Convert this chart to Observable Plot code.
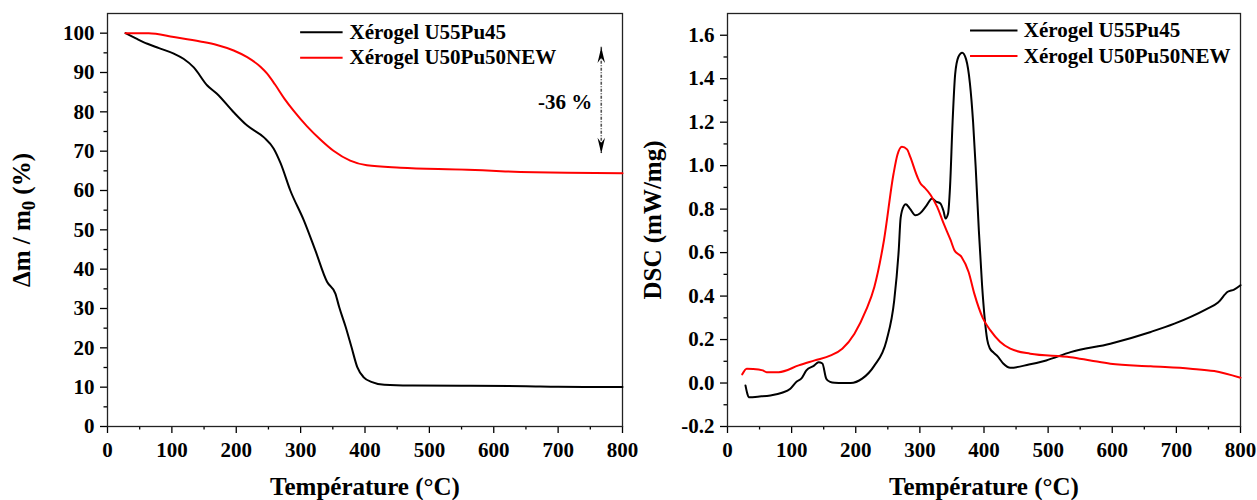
<!DOCTYPE html>
<html><head><meta charset="utf-8">
<script src="https://cdn.jsdelivr.net/npm/d3@7"></script>
<script src="https://cdn.jsdelivr.net/npm/@observablehq/plot@0.6"></script>
<style>
body{margin:0;background:#fff;}
#wrap{display:flex;width:1257px;height:500px;}
#wrap svg{overflow:visible;}
</style></head><body><div id="wrap"></div>
<script>
// ---- data: TGA (left panel) ----
const tgaU55T = [28,45,62,80,103,118,134,155,170,196,217,243,258,269,284,305,323,341,354,360,370,379,388,398,411,430,470,550,650,700,800];
const tgaU55V = [100,98.6,97.3,96.2,94.8,93.5,91.3,86.7,84.6,79.9,76.5,73.5,70.7,66.9,60,52.4,44.7,36.8,33.8,30.3,25.3,20.2,15.1,12.5,11.3,10.6,10.4,10.35,10.25,10.1,10.05];
const tgaU50T = [28,64,103,144,170,196,217,238,248,260,275,289,310,331,351,377,403,455,559,611,714,800];
const tgaU50V = [100,100,99,97.9,97,95.6,93.9,91.4,89.7,87.0,83.3,80.3,76.3,72.9,70.1,67.6,66.4,65.8,65.3,64.9,64.5,64.4];
// ---- data: DSC (right panel) ----
const dscU55T = [28,31,33,50,67,85,98,108,115,123,135,142,148,154,160,167,180,192,210,229,248,260,267,270,275,278,285,293,300,310,319,325,332,337,340,344,347,351,355,360,366,372,378,383,387,392,397,401,405,409,415,422,430,441,470,497,535,597,660,697,747,765,780,790,800];
const dscU55V = [-0.011,-0.05,-0.065,-0.062,-0.057,-0.045,-0.026,0.007,0.02,0.058,0.08,0.096,0.09,0.02,0.005,0.001,0,0,0.02,0.08,0.196,0.38,0.61,0.76,0.815,0.823,0.8,0.772,0.78,0.815,0.849,0.835,0.826,0.79,0.757,0.78,0.9,1.2,1.42,1.5,1.52,1.49,1.38,1.2,0.995,0.7,0.45,0.3,0.2,0.16,0.14,0.12,0.09,0.07,0.085,0.104,0.142,0.181,0.235,0.273,0.34,0.37,0.42,0.43,0.45];
const dscU50T = [23,30,40,55,61,80,111,136,161,179,198,216,229,244,259,265,272,280,285,296,301,306,317,327,337,348,354,365,376,385,398,410,425,441,472,535,566,597,660,722,759,800];
const dscU50V = [0.04,0.066,0.065,0.058,0.05,0.05,0.081,0.104,0.127,0.158,0.227,0.335,0.442,0.657,0.964,1.05,1.087,1.075,1.04,0.949,0.918,0.903,0.864,0.81,0.734,0.657,0.61,0.58,0.511,0.41,0.30,0.242,0.19,0.158,0.135,0.119,0.104,0.089,0.077,0.066,0.055,0.024];
// ---- series / legend ----
const seriesNames = ["Xérogel U55Pu45", "Xérogel U50Pu50NEW"];
const seriesColors = ["#000000", "#ff0000"];
// ---- ticks ----
const xTicks = [0,100,200,300,400,500,600,700,800];
const xMinor = [50,150,250,350,450,550,650,750];
const yTicksL = [0,10,20,30,40,50,60,70,80,90,100];
const yMinorL = [5,15,25,35,45,55,65,75,85,95];
const yTicksR = [-0.2,0,0.2,0.4,0.6,0.8,1.0,1.2,1.4,1.6];
const yMinorR = [-0.1,0.1,0.3,0.5,0.7,0.9,1.1,1.3,1.5];
// ---- titles ----
const xTitle = "Température (°C)";
const yTitleL = "Δm / m0 (%)";
const yTitleR = "DSC (mW/mg)";
// ---- annotation / legend positions (data units) ----
const legL = {x1: 300, x2: 366, xt: 376, y: [100.25, 93.75]};
const legR = {x1: 379, x2: 453, xt: 462, y: [1.622, 1.505]};
const lossArrow = {x: 767, top: 96.4, bottom: 69.4, labelX: 753, labelY: 82.4, label: "-36 %"};

const font = "'Liberation Serif','Times New Roman',serif";
const zip = (T, V) => T.map((t, i) => ({T: t, v: V[i]}));

const arrowHead = {draw(ctx, size) {
  const r = Math.sqrt(size / Math.PI);
  ctx.moveTo(0, 0); ctx.lineTo(r * 0.5, r * 2.1); ctx.lineTo(0, r * 1.4); ctx.lineTo(-r * 0.5, r * 2.1); ctx.closePath();
}};

function legendMarks(leg) {
  const rows = seriesNames.map((n, i) => ({name: n, color: seriesColors[i], y: leg.y[i]}));
  return [
    Plot.ruleY(rows, {y: "y", x1: leg.x1, x2: leg.x2, stroke: "color", strokeWidth: 2}),
    Plot.text(rows, {y: "y", x: leg.xt, text: "name", textAnchor: "start", fontSize: 21, fontWeight: "bold", fill: "black"})
  ];
}

function axisMarks(yTicks, yMinor, yFmt, ylabel, yLabelOffset) {
  return [
    Plot.axisX(xMinor, {tickSize: 3.5, tickFormat: () => "", label: null, strokeWidth: 1.3}),
    Plot.axisX(xTicks, {tickSize: 7, tickPadding: 9, fontSize: 21, fontWeight: "bold", strokeWidth: 1.3,
      label: xTitle, labelAnchor: "center", labelOffset: 68, labelArrow: "none"}),
    Plot.axisY(yMinor, {tickSize: 3.5, tickFormat: () => "", label: null, strokeWidth: 1.3}),
    Plot.axisY(yTicks, {tickSize: 7, tickPadding: 6, fontSize: 21, fontWeight: "bold", strokeWidth: 1.3, tickFormat: yFmt,
      label: ylabel, labelAnchor: "center", labelOffset: yLabelOffset, labelArrow: "none"}),
    Plot.frame({stroke: "#222", strokeWidth: 1.3})
  ];
}

const left = Plot.plot({
  width: 628, height: 500, marginLeft: 107, marginRight: 6, marginTop: 13, marginBottom: 74,
  style: {fontFamily: font, fontWeight: "bold", fontSize: "21px", background: "none", overflow: "visible", color: "black"},
  x: {domain: [0, 800]},
  y: {domain: [0, 105]},
  marks: [
    ...axisMarks(yTicksL, yMinorL, d => String(d), yTitleL, 95),
    Plot.line(zip(tgaU55T, tgaU55V), {x: "T", y: "v", stroke: seriesColors[0], strokeWidth: 2, curve: "monotone-x"}),
    Plot.line(zip(tgaU50T, tgaU50V), {x: "T", y: "v", stroke: seriesColors[1], strokeWidth: 2, curve: "monotone-x"}),
    ...legendMarks(legL),
    Plot.ruleX([lossArrow], {x: "x", y1: "top", y2: "bottom", stroke: "#555", strokeWidth: 1.6, strokeDasharray: "3,1.5,1,1.5"}),
    Plot.dot([{x: lossArrow.x, y: lossArrow.top, a: 0}, {x: lossArrow.x, y: lossArrow.bottom, a: 180}],
      {x: "x", y: "y", rotate: "a", symbol: arrowHead, r: 7.5, fill: "black", stroke: null}),
    Plot.text([lossArrow], {x: "labelX", y: "labelY", text: "label", textAnchor: "end", fontSize: 21, fontWeight: "bold"})
  ]
});

const right = Plot.plot({
  width: 629, height: 500, marginLeft: 99, marginRight: 17, marginTop: 13, marginBottom: 74,
  style: {fontFamily: font, fontWeight: "bold", fontSize: "21px", background: "none", overflow: "visible", color: "black"},
  x: {domain: [0, 800]},
  y: {domain: [-0.2, 1.7]},
  marks: [
    ...axisMarks(yTicksR, yMinorR, d => d.toFixed(1), yTitleR, 84),
    Plot.line(zip(dscU55T, dscU55V), {x: "T", y: "v", stroke: seriesColors[0], strokeWidth: 2, curve: "monotone-x"}),
    Plot.line(zip(dscU50T, dscU50V), {x: "T", y: "v", stroke: seriesColors[1], strokeWidth: 2, curve: "monotone-x"}),
    ...legendMarks(legR)
  ]
});

const wrap = document.getElementById("wrap");
wrap.append(left, right);

// axis titles: larger size, no arrows, subscript for m0
const strip = t => t.replace(/\s*[←↑→↓]\s*/g, "").trim();
for (const svg of [left, right]) {
  d3.select(svg).selectAll("text").each(function() {
    const t = strip(this.textContent);
    if (t === xTitle || t === yTitleR || t === yTitleL) {
      const s = d3.select(this).attr("font-size", 25).attr("font-weight", "bold");
      s.selectAll("tspan").remove();
      s.text(null);
      if (t === yTitleL) {
        s.append("tspan").text("Δm / m");
        s.append("tspan").attr("font-size", "0.75em").attr("dy", "0.25em").text("0");
        s.append("tspan").attr("dy", "-0.19em").text(" (%)");
      } else {
        s.text(t);
      }
    }
  });
}
</script></body></html>
